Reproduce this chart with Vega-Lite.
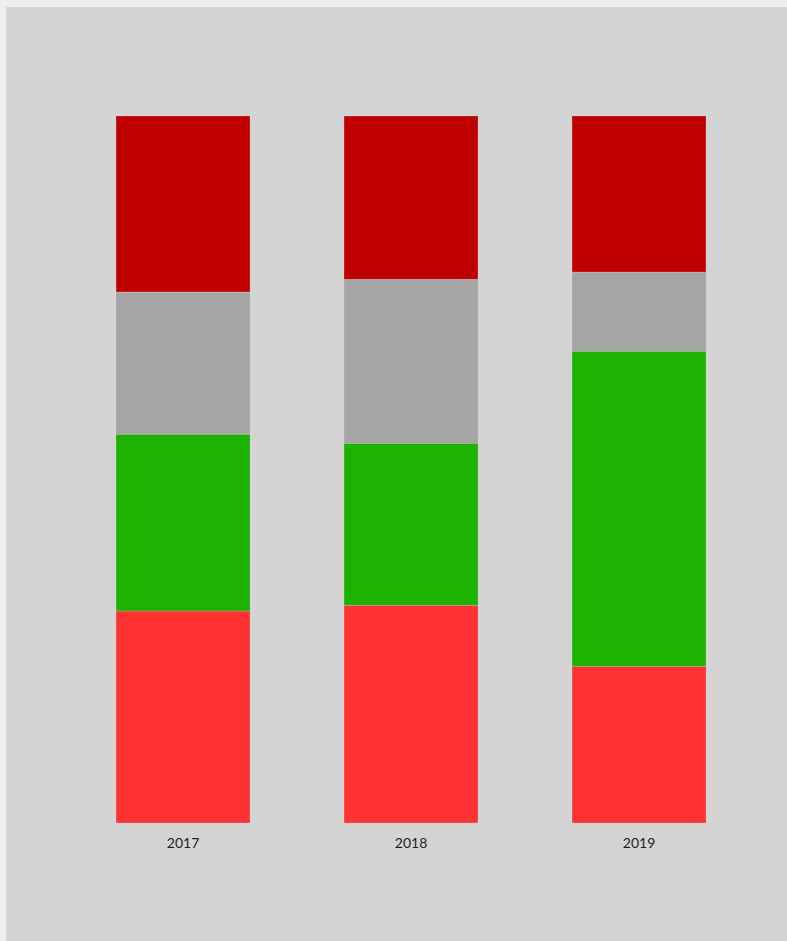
{
  "$schema": "https://vega.github.io/schema/vega-lite/v6.json",
  "width": 781,
  "height": 934,
  "autosize": {"type": "none"},
  "padding": {"left": 6, "top": 7, "right": 0, "bottom": 0},
  "background": "#eeeeee",
  "config": {
    "view": {"fill": "#d4d4d4", "stroke": null},
    "font": "Lato"
  },
  "data": {
    "values": [
      {"year": "2017", "segment": "Segment 1", "value": 30.0},
      {"year": "2017", "segment": "Segment 2", "value": 25.0},
      {"year": "2017", "segment": "Segment 3", "value": 20.1},
      {"year": "2017", "segment": "Segment 4", "value": 24.9},
      {"year": "2018", "segment": "Segment 1", "value": 30.8},
      {"year": "2018", "segment": "Segment 2", "value": 22.9},
      {"year": "2018", "segment": "Segment 3", "value": 23.2},
      {"year": "2018", "segment": "Segment 4", "value": 23.1},
      {"year": "2019", "segment": "Segment 1", "value": 22.2},
      {"year": "2019", "segment": "Segment 2", "value": 44.6},
      {"year": "2019", "segment": "Segment 3", "value": 11.2},
      {"year": "2019", "segment": "Segment 4", "value": 22.1}
    ]
  },
  "mark": {"type": "bar", "stroke": "#d4d4d4", "strokeWidth": 0.5, "strokeOpacity": 0.6},
  "encoding": {
    "x": {
      "field": "year",
      "type": "nominal",
      "scale": {"paddingInner": 0.4123, "paddingOuter": 0.4189, "align": 0.576},
      "axis": {
        "title": null,
        "domain": false,
        "ticks": false,
        "labelAngle": 0,
        "labelPadding": 13,
        "labelFontSize": 14,
        "labelColor": "#222222",
        "offset": -118
      }
    },
    "y": {
      "field": "value",
      "type": "quantitative",
      "stack": "normalize",
      "scale": {"domain": [-0.1669, 1.1542], "nice": false, "zero": false},
      "axis": null
    },
    "color": {
      "field": "segment",
      "type": "nominal",
      "scale": {
        "domain": ["Segment 1", "Segment 2", "Segment 3", "Segment 4"],
        "range": ["#ff3333", "#1cb200", "#a5a5a5", "#c00000"]
      },
      "legend": null
    },
    "order": {"field": "segment", "sort": "ascending"}
  }
}
